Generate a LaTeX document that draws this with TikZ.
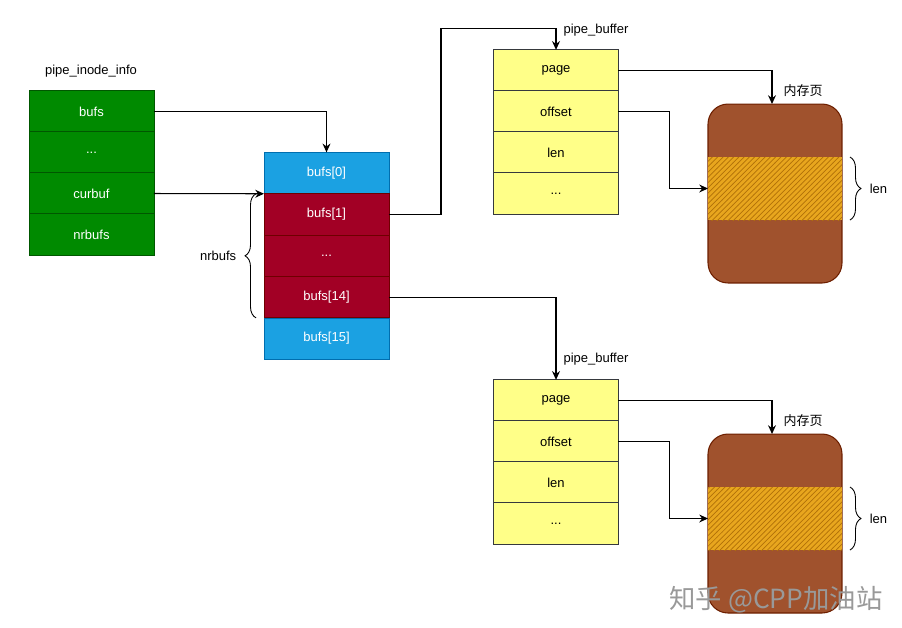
\documentclass[tikz,border=0pt]{standalone}
\usepackage{fontspec}
\setmainfont{Liberation Sans}
\newfontfamily\cjk{Noto Sans CJK SC}
\usetikzlibrary{arrows.meta,decorations.pathreplacing,patterns}

\definecolor{inodegreen}{HTML}{008A00}
\definecolor{inodeline}{HTML}{005700}
\definecolor{bufblue}{HTML}{1BA1E2}
\definecolor{bufblueline}{HTML}{006EAF}
\definecolor{bufred}{HTML}{A20025}
\definecolor{bufredline}{HTML}{6F0000}
\definecolor{pbyellow}{HTML}{FFFF88}
\definecolor{pbline}{HTML}{36393D}
\definecolor{pagebrown}{HTML}{A0522D}
\definecolor{pageline}{HTML}{6D1F00}
\definecolor{bandgold}{HTML}{E8A61E}
\definecolor{bandhatch}{HTML}{B07008}

\begin{document}
\begin{tikzpicture}[x=0.02cm,y=-0.02cm,font=\fontsize{7.4}{9}\selectfont,
		>={Stealth[length=5pt,width=4.5pt]},
		cell/.style={draw,line width=0.5pt,minimum width=2.5cm,minimum height=0.826cm,inner sep=0pt,outer sep=0pt},
		inodecell/.style={cell,fill=inodegreen,draw=inodeline,text=white},
		bluecell/.style={cell,fill=bufblue,draw=bufblueline,text=white},
		redcell/.style={cell,fill=bufred,draw=bufredline,text=white},
		pbcell/.style={cell,fill=pbyellow,draw=pbline},
		mempage/.style={draw=pageline,line width=0.6pt,fill=pagebrown,rounded corners=0.4cm,minimum width=2.68cm,minimum height=3.58cm,inner sep=0pt,outer sep=0pt},
		memband/.style={preaction={fill=bandgold},pattern=north east lines,pattern color=bandhatch,minimum width=2.68cm,minimum height=1.26cm,inner sep=0pt,outer sep=0pt},
		conn/.style={->,line width=0.6pt},
		sidebrace/.style={decorate,decoration={brace,amplitude=0.22cm},line width=0.5pt}]
			\useasboundingbox (0,0) rectangle (902,627);

			% pipe_inode_info
			\node (inodelabel) at (91,71) {pipe\_inode\_info};
			\node[inodecell] (bufs) at (91.5,111.5) {bufs};
			\node[inodecell] (inodedots) at (91.5,152.5) {...};
			\node[inodecell] (curbuf) at (91.5,193.5) {curbuf};
			\node[inodecell] (nrbufs) at (91.5,234.5) {nrbufs};

			% ring of pipe_buffer
			\node[bluecell] (arr0) at (326.5,173) {bufs[0]};
			\node[redcell] (arr1) at (326.5,214.4) {bufs[1]};
			\node[redcell] (arrdots) at (326.5,255.8) {...};
			\node[redcell] (arr14) at (326.5,297.2) {bufs[14]};
			\node[bluecell] (arr15) at (326.5,338.6) {bufs[15]};

			\draw[sidebrace] (arr14.south west) ++(-8,0) -- ([xshift=-0.16cm]arr1.north west)
				node[midway,xshift=-0.27cm,left] (nrlabel) {nrbufs};

			% first pipe_buffer
			\node[pbcell] (pa1) at (556,70.5) {page};
			\node[pbcell] (pb1) at (556,111.5) {offset};
			\node[pbcell] (pc1) at (556,152.5) {len};
			\node[pbcell] (pd1) at (556,193.5) {...};
			\node (pblabel1) at (596,30) {pipe\_buffer};

			\node[mempage] (mem1) at (775,193.5) {};
			\node[memband] (band1) at (775,188.5) {};
			\node (memlabel1) at (803,91) {\cjk 内存页};
			\draw[sidebrace] ([xshift=0.16cm]band1.north east) -- ([xshift=0.16cm]band1.south east)
				node[midway,xshift=0.27cm,right] (lenlabel1) {len};

			% second pipe_buffer
			\node[pbcell] (pa2) at (556,400.5) {page};
			\node[pbcell] (pb2) at (556,441.5) {offset};
			\node[pbcell] (pc2) at (556,482.5) {len};
			\node[pbcell] (pd2) at (556,523.5) {...};
			\node (pblabel2) at (596,359) {pipe\_buffer};

			\node[mempage] (mem2) at (775,523.5) {};
			\node[memband] (band2) at (775,518.5) {};
			\node (memlabel2) at (803,421) {\cjk 内存页};
			\draw[sidebrace] ([xshift=0.16cm]band2.north east) -- ([xshift=0.16cm]band2.south east)
				node[midway,xshift=0.27cm,right] (lenlabel2) {len};

			% connectors
			\draw[conn] (bufs.east) -| (arr0.north);
			\draw[conn] (curbuf.east) -- (arr1.north west);
			\draw[conn] (arr1.east) -- ++(52,0) |- ([yshift=0.42cm]pa1.north) -- (pa1.north);
			\draw[conn] (arr14.east) -| (pa2.north);
			\draw[conn] (pa1.east) -| ([xshift=-0.06cm]mem1.north);
			\draw[conn] (pb1.east) -- ++(51,0) |- (band1.west);
			\draw[conn] (pa2.east) -| ([xshift=-0.06cm]mem2.north);
			\draw[conn] (pb2.east) -- ++(51,0) |- (band2.west);

			% watermark
			\node[text=black!40,font=\cjk\fontsize{15}{15}\selectfont] (mark) at (776,600) {知乎 @CPP加油站};
		\end{tikzpicture}
\end{document}
